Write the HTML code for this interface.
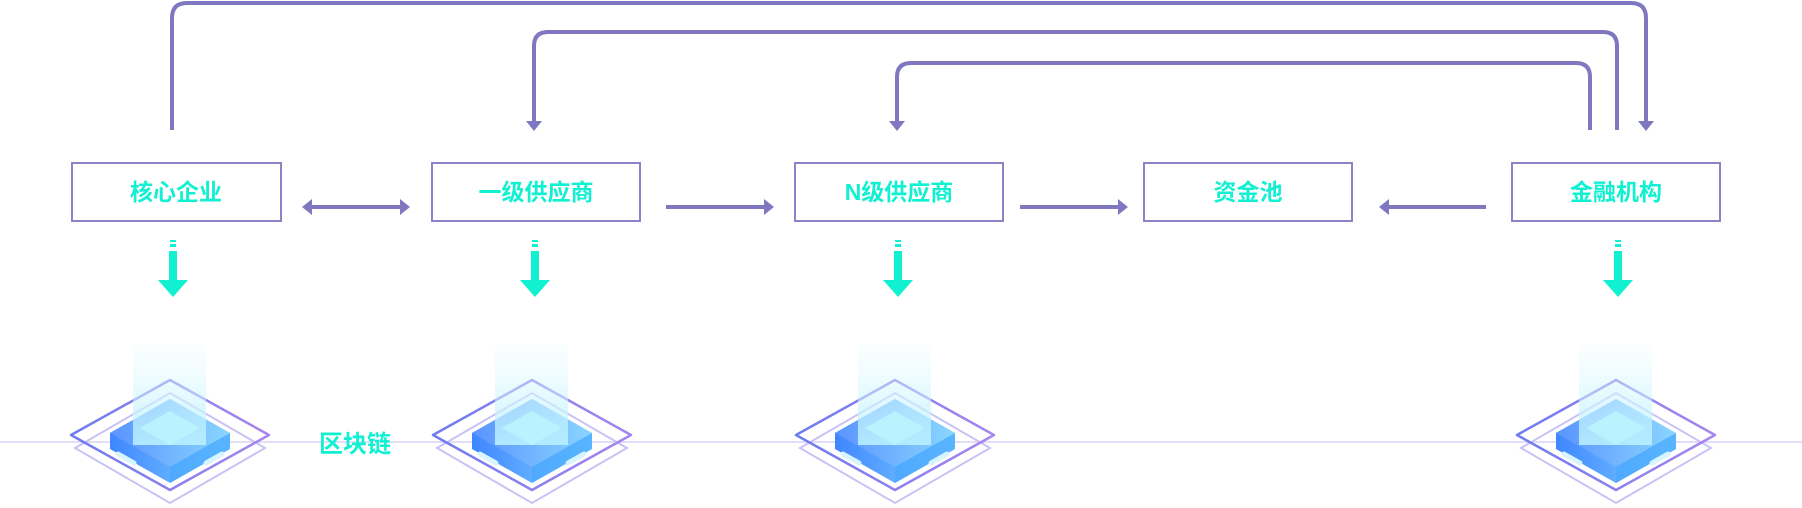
<!DOCTYPE html>
<html><head><meta charset="utf-8"><style>
html,body{margin:0;padding:0;background:#fff;}
svg{display:block}
text{font-family:"Liberation Sans","Noto Sans CJK SC",sans-serif;font-weight:bold;fill:#12f0d2;}
</style></head><body>
<svg width="1802" height="508" viewBox="0 0 1802 508" xmlns="http://www.w3.org/2000/svg">
<defs>
<linearGradient id="beam" x1="0" y1="0" x2="0" y2="1">
<stop offset="0" stop-color="#e8fbff" stop-opacity="0.2"/>
<stop offset="1" stop-color="#b8f0ff" stop-opacity="0.9"/>
</linearGradient>
<linearGradient id="top" x1="0" y1="0" x2="1" y2="0">
<stop offset="0" stop-color="#5a93ff"/><stop offset="1" stop-color="#8ad6ff"/>
</linearGradient>
<linearGradient id="side" x1="0" y1="0" x2="1" y2="0">
<stop offset="0" stop-color="#3f86ff"/><stop offset="1" stop-color="#7fd2ff"/>
</linearGradient>
<linearGradient id="ring" x1="0" y1="0" x2="1" y2="0">
<stop offset="0" stop-color="#6f7cf0"/><stop offset="1" stop-color="#a885ee"/>
</linearGradient>
<g id="chip">
<polygon points="-95,448 0,393 95,448 0,503" fill="none" stroke="#c9c3f5" stroke-width="2"/>
<polygon points="-99,435 0,380 99,435 0,490" fill="none" stroke="url(#ring)" stroke-width="2.5" stroke-linejoin="round"/>
<polygon points="-60,433 0,399 60,433 60,449 0,483 -60,449" fill="url(#side)"/>
<polygon points="-60,433 0,399 60,433 0,467" fill="url(#top)"/>
<polygon points="0,467 60,433 60,449 0,483" fill="#49a8ff" opacity="0.7"/>
<rect x="-37" y="345" width="73" height="100" fill="url(#beam)"/>
<polygon points="-30,428 0,411 30,428 0,445" fill="#b9f3ff"/>
<line x1="-52" y1="454" x2="-36" y2="463" stroke="#d8f4ff" stroke-width="5" stroke-linecap="round"/>
<line x1="36" y1="463" x2="52" y2="454" stroke="#d8f4ff" stroke-width="5" stroke-linecap="round"/>
</g>
<g id="darr">
<rect x="-3" y="240" width="6" height="2" fill="#12f0d2"/>
<rect x="-3" y="244" width="6" height="3" fill="#12f0d2"/>
<rect x="-4" y="251" width="8" height="31" fill="#12f0d2"/>
<polygon points="-15,280 15,280 0,297" fill="#12f0d2"/>
</g>
</defs>

<line x1="0" y1="442" x2="1802" y2="442" stroke="#e2defa" stroke-width="2"/>

<g fill="none" stroke="#7f78c0" stroke-width="4">
<path d="M172,130 V18 Q172,3 187,3 H1631 Q1646,3 1646,18 V122"/>
<path d="M534,122 V46 Q534,32 548,32 H1603 Q1617,32 1617,46 V130"/>
<path d="M897,122 V77 Q897,63 911,63 H1576 Q1590,63 1590,77 V130"/>
<line x1="310" y1="207" x2="402" y2="207"/>
<line x1="666" y1="207" x2="764" y2="207"/>
<line x1="1020" y1="207" x2="1118" y2="207"/>
<line x1="1387" y1="207" x2="1486" y2="207"/>
</g>
<g fill="#7f78c0">
<polygon points="1638,121 1654,121 1646,131"/>
<polygon points="526,121 542,121 534,131"/>
<polygon points="889,121 905,121 897,131"/>
<polygon points="302,207 312,199 312,215"/>
<polygon points="410,207 400,199 400,215"/>
<polygon points="774,207 764,199 764,215"/>
<polygon points="1128,207 1118,199 1118,215"/>
<polygon points="1379,207 1389,199 1389,215"/>
</g>

<g fill="#fff" stroke="#8a83c8" stroke-width="2">
<rect x="72" y="163" width="209" height="58"/>
<rect x="432" y="163" width="208" height="58"/>
<rect x="795" y="163" width="208" height="58"/>
<rect x="1144" y="163" width="208" height="58"/>
<rect x="1512" y="163" width="208" height="58"/>
</g>
<g font-size="23" text-anchor="middle">
<text x="176" y="200">核心企业</text>
<text x="536" y="200">一级供应商</text>
<text x="899" y="200">N级供应商</text>
<text x="1248" y="200">资金池</text>
<text x="1616" y="200">金融机构</text>
</g>

<use href="#darr" transform="translate(173,0)"/>
<use href="#darr" transform="translate(535,0)"/>
<use href="#darr" transform="translate(898,0)"/>
<use href="#darr" transform="translate(1618,0)"/>

<use href="#chip" transform="translate(170,0)"/>
<use href="#chip" transform="translate(532,0)"/>
<use href="#chip" transform="translate(895,0)"/>
<use href="#chip" transform="translate(1616,0)"/>

<text x="319" y="452" font-size="24">区块链</text>
</svg>
</body></html>
